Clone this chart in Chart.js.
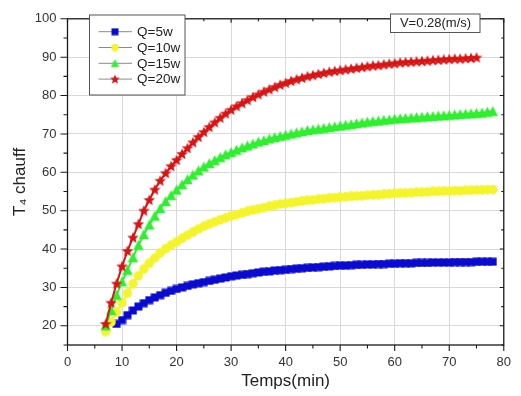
<!DOCTYPE html>
<html>
<head>
<meta charset="utf-8">
<script src="https://cdn.jsdelivr.net/npm/chart.js@4.4.1/dist/chart.umd.min.js"></script>
<style>
  html, body { margin: 0; padding: 0; background: #fff; }
  #wrap { width: 521px; height: 396px; }
</style>
</head>
<body>
<div id="wrap"><canvas id="chart" width="521" height="396"></canvas></div>
<script>
/* T4 chauff vs Temps - four heating powers, V = 0.28 m/s */

// ── Data ──
var TIMES = [
   7,  8,  9, 10, 11, 12, 13, 14, 15, 16,
  17, 18, 19, 20, 21, 22, 23, 24, 25, 26,
  27, 28, 29, 30, 31, 32, 33, 34, 35, 36,
  37, 38, 39, 40, 41, 42, 43, 44, 45, 46,
  47, 48, 49, 50, 51, 52, 53, 54, 55, 56,
  57, 58, 59, 60, 61, 62, 63, 64, 65, 66,
  67, 68, 69, 70, 71, 72, 73, 74, 75, 76,
  77, 78
];

var Q5 = [
  null, null, 20.5, 21.5, 22.8, 24.0, 25.0, 25.9, 26.7, 27.4,
  28.0, 28.6, 29.1, 29.6, 30.0, 30.4, 30.8, 31.1, 31.4, 31.7,
  32.0, 32.3, 32.6, 32.9, 33.1, 33.3, 33.5, 33.7, 33.9, 34.1,
  34.2, 34.4, 34.5, 34.6, 34.8, 34.9, 35.0, 35.1, 35.2, 35.3,
  35.4, 35.5, 35.6, 35.7, 35.7, 35.8, 35.9, 35.9, 36.0, 36.0,
  36.1, 36.1, 36.2, 36.2, 36.3, 36.3, 36.3, 36.4, 36.4, 36.4,
  36.5, 36.5, 36.5, 36.5, 36.6, 36.6, 36.6, 36.6, 36.7, 36.7,
  36.7, 36.7
];

var Q10 = [
  18.5, 21.0, 23.5, 26.0, 28.5, 31.0, 33.0, 34.8, 36.3, 37.7,
  39.0, 40.1, 41.0, 41.9, 42.8, 43.6, 44.4, 45.2, 45.9, 46.5,
  47.1, 47.6, 48.1, 48.6, 49.0, 49.4, 49.8, 50.2, 50.5, 50.8,
  51.1, 51.4, 51.7, 51.9, 52.1, 52.3, 52.5, 52.7, 52.8, 53.0,
  53.1, 53.3, 53.4, 53.5, 53.6, 53.7, 53.8, 53.9, 54.0, 54.1,
  54.2, 54.3, 54.4, 54.5, 54.6, 54.6, 54.7, 54.8, 54.8, 54.9,
  55.0, 55.0, 55.1, 55.1, 55.2, 55.2, 55.3, 55.3, 55.4, 55.4,
  55.5, 55.5
];

var Q15 = [
  20.0, 24.0, 28.0, 31.5, 34.5, 37.8, 41.0, 43.8, 46.3, 48.6,
  50.6, 52.4, 54.0, 55.4, 56.8, 58.1, 59.3, 60.4, 61.4, 62.3,
  63.1, 63.9, 64.6, 65.2, 65.8, 66.4, 66.9, 67.4, 67.9, 68.3,
  68.7, 69.1, 69.4, 69.7, 70.0, 70.3, 70.6, 70.9, 71.1, 71.3,
  71.5, 71.7, 71.9, 72.1, 72.3, 72.5, 72.7, 72.9, 73.1, 73.3,
  73.4, 73.6, 73.7, 73.9, 74.0, 74.1, 74.2, 74.3, 74.4, 74.5,
  74.6, 74.7, 74.8, 74.9, 75.0, 75.1, 75.2, 75.3, 75.4, 75.5,
  75.7, 75.9
];

var Q20 = [
  20.5, 26.0, 31.0, 35.5, 39.5, 43.0, 46.5, 50.0, 52.8, 55.5,
  57.8, 59.8, 61.6, 63.2, 64.8, 66.3, 67.8, 69.2, 70.5, 71.8,
  73.0, 74.2, 75.3, 76.3, 77.2, 78.0, 78.8, 79.6, 80.3, 81.0,
  81.6, 82.2, 82.8, 83.3, 83.8, 84.2, 84.6, 85.0, 85.3, 85.6,
  85.9, 86.2, 86.4, 86.6, 86.8, 87.0, 87.2, 87.4, 87.6, 87.8,
  87.9, 88.1, 88.3, 88.4, 88.6, 88.7, 88.8, 88.9, 89.0, 89.1,
  89.2, 89.3, 89.4, 89.5, 89.6, 89.6, 89.7, 89.8, 89.9, null,
  null, null
];

var SERIES_LABELS = ['Q=5w', 'Q=10w', 'Q=15w', 'Q=20w'];
var SERIES_VALUES = [Q5, Q10, Q15, Q20];
var X_TICKS = [0, 10, 20, 30, 40, 50, 60, 70, 80];
var Y_TICKS = [20, 30, 40, 50, 60, 70, 80, 90, 100];
var NOTE_TEXT = 'V=0.28(m/s)';

// ── Styles ──
var FONT = '"Liberation Sans", Arial, sans-serif';
var STYLES = [
  { color: '#0a0ad0', shape: 'square',   size: 9,  legendSize: 8,  order: 3 },
  { color: '#f4f42a', shape: 'circle',   size: 10, legendSize: 8,  order: 2 },
  { color: '#2ef02e', shape: 'triangle', size: 11, legendSize: 9,  order: 1 },
  { color: '#d81414', shape: 'star',     size: 12, legendSize: 10, order: 0 }
];

// ── Marker sprites (pointStyle accepts a canvas) ──
function makeMarker(shape, fill, size) {
  var c = document.createElement('canvas');
  c.width = size; c.height = size;
  var g = c.getContext('2d');
  var h = size / 2;
  g.fillStyle = fill;
  g.beginPath();
  if (shape === 'square') {
    g.rect(0.5, 0.5, size - 1, size - 1);
  } else if (shape === 'circle') {
    g.arc(h, h, h - 0.3, 0, Math.PI * 2);
  } else if (shape === 'triangle') {
    g.moveTo(h, 0.3);
    g.lineTo(size - 0.3, size - 0.8);
    g.lineTo(0.3, size - 0.8);
    g.closePath();
  } else {
    for (var i = 0; i < 10; i++) {
      var r = i % 2 === 0 ? h : h * 0.45;
      var a = -Math.PI / 2 + i * Math.PI / 5;
      var px = h + r * Math.cos(a), py = h + 0.4 + r * Math.sin(a);
      if (i === 0) g.moveTo(px, py); else g.lineTo(px, py);
    }
    g.closePath();
  }
  g.fill();
  return c;
}

var markers = [], legendMarkers = [];
for (var m = 0; m < STYLES.length; m++) {
  markers.push(makeMarker(STYLES[m].shape, STYLES[m].color, STYLES[m].size));
  legendMarkers.push(makeMarker(STYLES[m].shape, STYLES[m].color, STYLES[m].legendSize));
}

function toPoints(values) {
  var pts = [];
  for (var i = 0; i < TIMES.length; i++) {
    if (values[i] !== null) pts.push({ x: TIMES[i], y: values[i] });
  }
  return pts;
}

var datasets = [];
for (var s = 0; s < SERIES_VALUES.length; s++) {
  datasets.push({
    label: SERIES_LABELS[s],
    data: toPoints(SERIES_VALUES[s]),
    borderColor: STYLES[s].color,
    backgroundColor: STYLES[s].color,
    borderWidth: 2,
    pointStyle: markers[s],
    pointRadius: STYLES[s].size / 2,
    order: STYLES[s].order,
    showLine: true,
    tension: 0
  });
}

// ── Frame, minor ticks, legend and note box ──
var framePlugin = {
  id: 'frame',
  afterDatasetsDraw: function(chart) {
    var ctx = chart.ctx;
    var a = chart.chartArea;
    var xs = chart.scales.x, ys = chart.scales.y;
    var v, p, major;

    ctx.save();
    ctx.strokeStyle = '#1a1a1a';
    ctx.lineWidth = 1.3;
    ctx.strokeRect(a.left, a.top, a.right - a.left, a.bottom - a.top);

    ctx.lineWidth = 1.1;
    ctx.beginPath();
    for (v = 0; v <= 80; v += 5) {
      p = xs.getPixelForValue(v);
      major = v % 10 === 0;
      ctx.moveTo(p, a.bottom); ctx.lineTo(p, a.bottom + (major ? 6 : 3.5));
      ctx.moveTo(p, a.top);    ctx.lineTo(p, a.top + (major ? 4 : 2.5));
    }
    for (v = 15; v <= 100; v += 5) {
      p = ys.getPixelForValue(v);
      major = v % 10 === 0;
      ctx.moveTo(a.left, p);  ctx.lineTo(a.left - (major ? 7 : 4), p);
      ctx.moveTo(a.right, p); ctx.lineTo(a.right - (major ? 4 : 2.5), p);
    }
    ctx.stroke();

    // legend box
    var lx = 89.5, ly = 15, lw = 95.5, lh = 80;
    ctx.fillStyle = '#fff';
    ctx.fillRect(lx, ly, lw, lh);
    ctx.strokeStyle = '#555';
    ctx.lineWidth = 1;
    ctx.strokeRect(lx, ly, lw, lh);
    ctx.font = '13.5px ' + FONT;
    ctx.textBaseline = 'middle';
    ctx.textAlign = 'left';
    for (var i = 0; i < SERIES_LABELS.length; i++) {
      var ry = 31.7 + i * 15.8;
      ctx.strokeStyle = '#8a8a8a';
      ctx.beginPath();
      ctx.moveTo(98.5, ry); ctx.lineTo(132, ry);
      ctx.stroke();
      var mk = legendMarkers[i];
      ctx.drawImage(mk, 115 - mk.width / 2, ry - mk.height / 2);
      ctx.fillStyle = '#222';
      ctx.fillText(SERIES_LABELS[i], 137, ry + 0.5);
    }

    // note box
    ctx.fillStyle = '#fff';
    ctx.fillRect(390.5, 14, 89.5, 18.5);
    ctx.strokeStyle = '#555';
    ctx.strokeRect(390.5, 14, 89.5, 18.5);
    ctx.fillStyle = '#222';
    ctx.font = '13px ' + FONT;
    ctx.textAlign = 'center';
    ctx.fillText(NOTE_TEXT, 435.5, 23.8);
    ctx.restore();
  }
};

function majorGrid(list, lo, hi) {
  return function(c) {
    var val = c.tick ? c.tick.value : null;
    return (list.indexOf(val) !== -1 && val > lo && val < hi) ? '#d9d9d9' : 'rgba(0,0,0,0)';
  };
}

new Chart(document.getElementById('chart'), {
  type: 'scatter',
  data: { datasets: datasets },
  plugins: [framePlugin],
  options: {
    responsive: false,
    animation: false,
    layout: { padding: { left: 0, right: 7, top: 13, bottom: 0 } },
    plugins: {
      legend: { display: false },
      tooltip: { enabled: false }
    },
    scales: {
      x: {
        type: 'linear',
        min: 0,
        max: 80,
        afterFit: function(sc) { sc.height = 51; },
        border: { display: false },
        grid: { drawTicks: false, color: majorGrid(X_TICKS, 0, 80), lineWidth: 1 },
        ticks: {
          stepSize: 5,
          autoSkip: false,
          maxRotation: 0,
          padding: 10,
          color: '#333',
          font: { family: FONT, size: 13 },
          callback: function(v) { return X_TICKS.indexOf(v) !== -1 ? String(v) : ''; }
        },
        title: {
          display: true,
          text: 'Temps(min)',
          color: '#222',
          font: { family: FONT, size: 17 },
          padding: { top: 0, bottom: 4 }
        }
      },
      y: {
        type: 'linear',
        min: 15,
        max: 100,
        afterFit: function(sc) { sc.width = 67.5; },
        border: { display: false },
        grid: { drawTicks: false, color: majorGrid(Y_TICKS, 15, 100), lineWidth: 1 },
        ticks: {
          stepSize: 5,
          autoSkip: false,
          padding: 11,
          color: '#333',
          font: { family: FONT, size: 13 },
          callback: function(v) { return Y_TICKS.indexOf(v) !== -1 ? String(v) : ''; }
        },
        title: {
          display: true,
          text: 'T\u2084 chauff',
          color: '#222',
          font: { family: FONT, size: 17 },
          padding: { top: 10, bottom: 0 }
        }
      }
    }
  }
});
</script>
</body>
</html>
